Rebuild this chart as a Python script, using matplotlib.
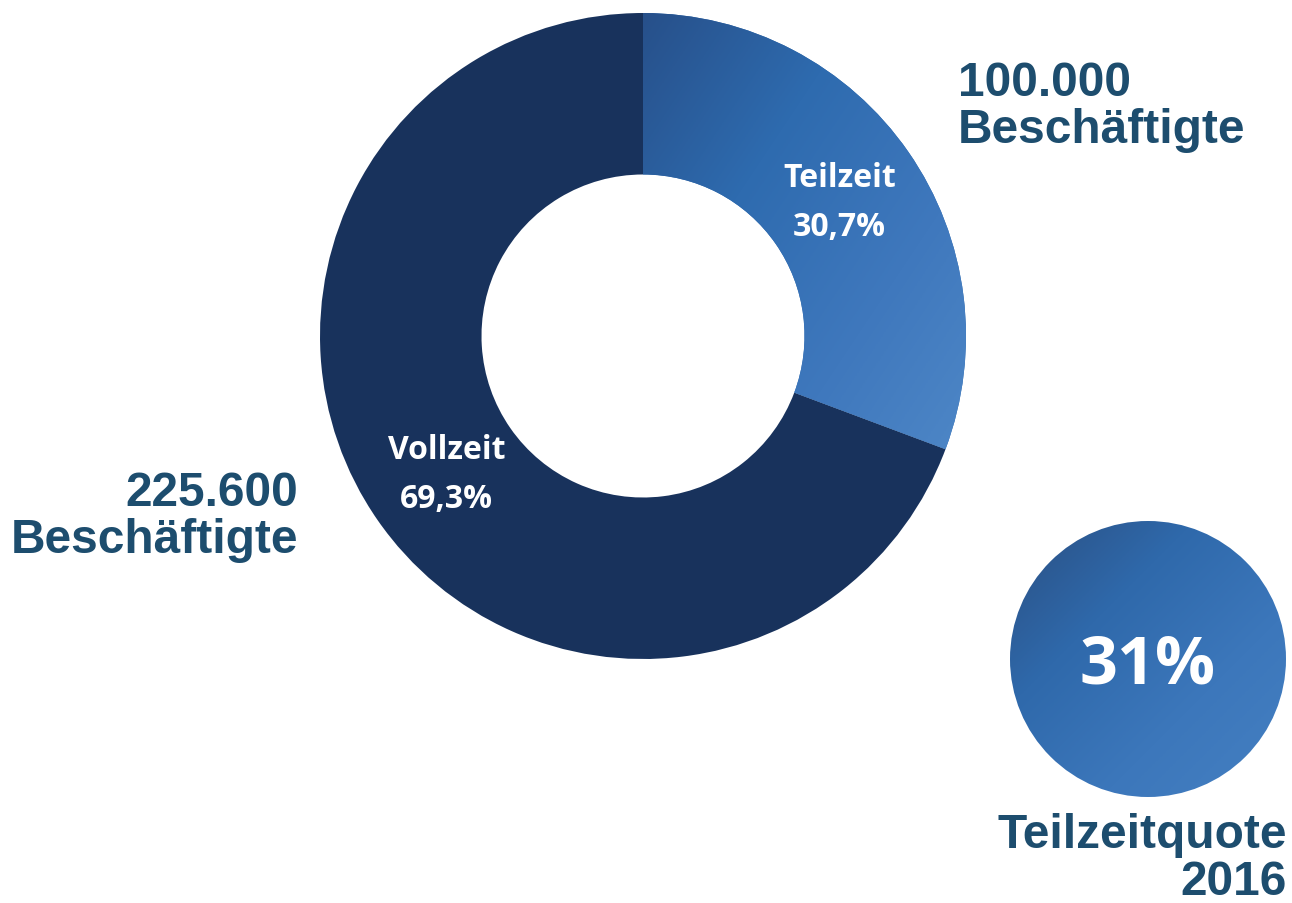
import matplotlib.pyplot as plt
import numpy as np
from matplotlib.colors import LinearSegmentedColormap
from matplotlib.patches import Circle

# data
segments = ["Teilzeit", "Vollzeit"]
shares = [30.7, 69.3]
share_labels = ["30,7%", "69,3%"]
counts = ["100.000", "225.600"]
quote = "31%"
quote_year = "2016"

dark_navy = "#18325c"
text_blue = "#1d4d6e"

fig = plt.figure(figsize=(12.92, 9.04), dpi=100)
ax = fig.add_axes([0, 0, 1, 1])

cx, cy, R = 643, 567, 323
wedges, _ = ax.pie(shares, center=(cx, cy), radius=R, startangle=90, counterclock=False,
                   colors=["#2f6aad", dark_navy], wedgeprops=dict(width=R * 0.5, linewidth=0),
                   frame=True)
ax.set_xlim(0, 1292)
ax.set_ylim(0, 904)
ax.set_aspect("equal")
ax.axis("off")

# gradient on the Teilzeit wedge
grad_cmap = LinearSegmentedColormap.from_list("tz", ["#27508a", "#2e6baf", "#3f78bd", "#5089c8"])
xx, yy = np.meshgrid(np.linspace(0, 1, 200), np.linspace(0, 1, 200))
g = (xx + yy) / 2
im = ax.imshow(g, cmap=grad_cmap, extent=(cx, cx + R, cy - R * 0.5, cy + R),
               origin="upper", aspect="auto", zorder=2)
im.set_clip_path(wedges[0])

# slice labels
for w, name, lab in zip(wedges, segments, share_labels):
    ang = np.deg2rad((w.theta1 + w.theta2) / 2)
    r = R * 0.74
    ax.text(cx + r * np.cos(ang), cy + r * np.sin(ang) - 2, name + "\n" + lab,
            ha="center", va="center", color="white", fontsize=23, fontweight="bold",
            family="Open Sans", linespacing=1.62, zorder=5)

# quota circle
qx, qy, qr = 1148, 244, 138
circ = Circle((qx, qy), qr, facecolor="none", edgecolor="none")
ax.add_patch(circ)
q_cmap = LinearSegmentedColormap.from_list("q", ["#2a4f82", "#2f69ab", "#3c77bb", "#4580c2"])
im2 = ax.imshow(g, cmap=q_cmap, extent=(qx - qr, qx + qr, qy - qr, qy + qr),
                origin="upper", aspect="auto", zorder=2)
im2.set_clip_path(circ)
ax.text(qx, qy - 6, quote, ha="center", va="center", color="white", fontsize=48,
        fontweight="bold", family="Open Sans", zorder=5)

# outer labels
lab_kw = dict(color=text_blue, fontsize=34.5, fontweight="bold", family="Liberation Sans",
              linespacing=1.08)
ax.text(958, 797, counts[0] + "\nBeschäftigte", ha="left", va="center", **lab_kw)
ax.text(298, 387, counts[1] + "\nBeschäftigte", ha="right", va="center",
        multialignment="right", **lab_kw)
ax.text(1287, 45, "Teilzeitquote\n" + quote_year, ha="right", va="center",
        multialignment="right", **lab_kw)

fig.savefig("out.png", dpi=100)
